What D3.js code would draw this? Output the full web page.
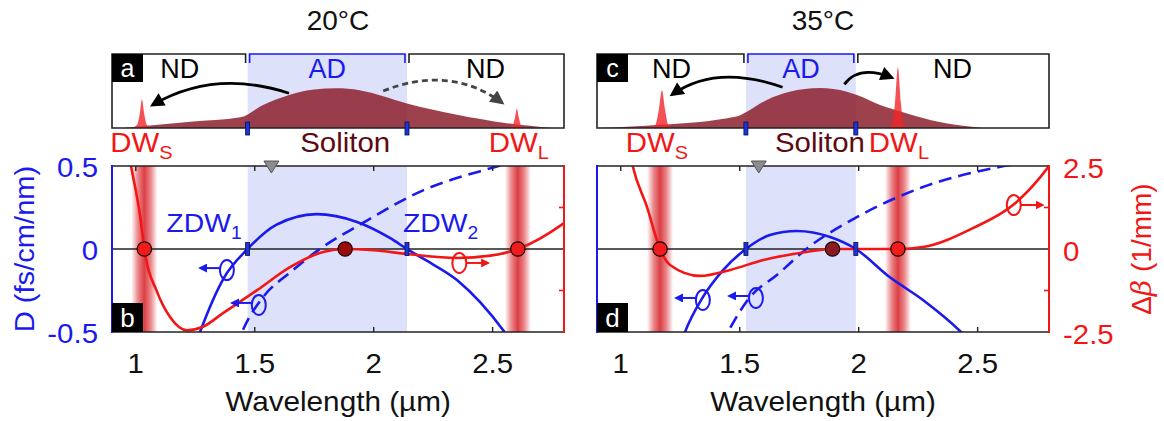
<!DOCTYPE html>
<html>
<head>
<meta charset="utf-8">
<script src="https://cdn.jsdelivr.net/npm/d3@7"></script>
<style>
  body { margin: 0; background: #fff; }
  text { font-family: "Liberation Sans", Arial, sans-serif; }
</style>
</head>
<body>
<div id="chart"></div>
<script>
// ---- data ----
const temps = ['20°C', '35°C'];
const xTicks = [1, 1.5, 2, 2.5];
const dTicks = [-0.5, 0, 0.5];
const betaTicks = [-2.5, 0, 2.5];
const betaMinor = [-1.25, 1.25];

// 20°C
const zdw20 = [1.47, 2.14];
const dw20 = [1.036, 2.606];
const sol20 = 1.88;
const pump20 = 1.57;
const dSolid20 = [[1.24, -0.62], [1.27, -0.5], [1.37, -0.175], [1.47, 0], [1.59, 0.145], [1.76, 0.21], [1.93, 0.163], [2.07, 0.065], [2.14, 0], [2.21, -0.06], [2.35, -0.187], [2.55, -0.5], [2.58, -0.56]];
const dDash20 = [[1.42, -0.6], [1.447, -0.5], [1.535, -0.29], [1.65, -0.14], [1.774, 0], [1.94, 0.145], [2.21, 0.355], [2.5, 0.49], [2.6, 0.53]];
const beta20 = [[0.96, 3.3], [0.98, 2.5], [1.018, 1.0], [1.036, 0], [1.09, -1.3], [1.144, -2.05], [1.215, -2.45], [1.28, -2.35], [1.367, -1.93], [1.51, -1.24], [1.65, -0.54], [1.787, -0.09], [1.88, 0], [2.0, -0.04], [2.14, -0.15], [2.35, -0.27], [2.49, -0.2], [2.606, 0], [2.8, 0.78], [2.85, 1.05]];
const solSpec20 = [[0.95, 0], [0.98, 0.01], [1.23, 0.085], [1.44, 0.145], [1.535, 0.31], [1.648, 0.45], [1.75, 0.52], [1.844, 0.536], [1.94, 0.51], [2.04, 0.43], [2.14, 0.33], [2.35, 0.18], [2.56, 0.065], [2.75, 0]];
const dwSSpec20 = [[0.98, 0], [1.005, 0.04], [1.017, 0.2], [1.026, 0.39], [1.035, 0.2], [1.047, 0.04], [1.07, 0]];
const dwLSpec20 = [[2.56, 0], [2.585, 0.04], [2.595, 0.16], [2.602, 0.26], [2.609, 0.16], [2.619, 0.04], [2.64, 0]];

// 35°C
const zdw35 = [1.526, 1.988];
const dw35 = [1.165, 2.165];
const sol35 = 1.89;
const pump35 = 1.58;
const dSolid35 = [[1.25, -0.58], [1.27, -0.5], [1.345, -0.29], [1.43, -0.127], [1.526, 0], [1.627, 0.084], [1.74, 0.108], [1.88, 0.072], [1.988, 0], [2.13, -0.169], [2.27, -0.307], [2.43, -0.5], [2.47, -0.56]];
const dDash35 = [[1.42, -0.58], [1.45, -0.5], [1.543, -0.29], [1.656, -0.157], [1.78, 0], [1.99, 0.19], [2.27, 0.373], [2.59, 0.494], [2.65, 0.51]];
const beta35 = [[1.03, 3.2], [1.05, 2.5], [1.11, 1.27], [1.165, 0], [1.207, -0.48], [1.333, -0.81], [1.46, -0.63], [1.6, -0.33], [1.78, -0.09], [1.89, 0], [2.0, 0], [2.165, 0], [2.27, 0.06], [2.48, 0.63], [2.65, 1.33], [2.8, 2.5], [2.83, 2.8]];
const solSpec35 = [[0.9, 0], [1.152, 0.04], [1.49, 0.16], [1.53, 0.22], [1.614, 0.38], [1.71, 0.49], [1.837, 0.54], [1.95, 0.49], [1.99, 0.45], [2.09, 0.31], [2.2, 0.2], [2.34, 0.08], [2.52, 0]];
const dwSSpec35 = [[1.12, 0], [1.145, 0.04], [1.16, 0.25], [1.173, 0.51], [1.186, 0.25], [1.2, 0.04], [1.225, 0]];
const dwLSpec35 = [[2.12, 0], [2.14, 0.05], [2.153, 0.35], [2.165, 0.82], [2.177, 0.35], [2.19, 0.05], [2.21, 0]];

// ---- layout ----
const BLUE = '#1a1aee', RED = '#f21616', SHADE = '#dde1f9';
const FS = 27;
const SX = 1.09;   // text in the figure is a bit wider than Arial

const panels = [
  { left: 112, title: temps[0], letters: ['a', 'b'], zdw: zdw20, dw: dw20, sol: sol20, pump: pump20,
    dSolid: dSolid20, dDash: dDash20, beta: beta20, spec: solSpec20, dwS: dwSSpec20, dwL: dwLSpec20,
    solLabel: 1.88,
    arrows: [{ from: [1.644, 0.47], ctrl: [1.33, 0.8], to: [1.07, 0.31], dash: false },
             { from: [2.04, 0.5], ctrl: [2.32, 0.86], to: [2.54, 0.34], dash: true }],
    ellD: [[1.383, -0.127], [1.517, -0.337]], ellB: [2.36, -0.084], firstAxis: true },
  { left: 597, title: temps[1], letters: ['c', 'd'], zdw: zdw35, dw: dw35, sol: sol35, pump: pump35,
    dSolid: dSolid35, dDash: dDash35, beta: beta35, spec: solSpec35, dwS: dwSSpec35, dwL: dwLSpec35,
    solLabel: 1.837,
    arrows: [{ from: [1.68, 0.55], ctrl: [1.40, 0.87], to: [1.215, 0.45], dash: false },
             { from: [1.94, 0.59], ctrl: [2.0, 0.86], to: [2.14, 0.68], dash: false }],
    ellD: [[1.345, -0.307], [1.568, -0.295]], ellB: [2.652, 0.265], firstAxis: false }
];

const svg = d3.select('#chart').append('svg')
    .attr('width', 1164)
    .attr('height', 421);

const defs = svg.append('defs');

// red blurred band for dispersive waves
const grad = defs.append('linearGradient').attr('id', 'band').attr('x1', 0).attr('x2', 1).attr('y1', 0).attr('y2', 0);
[[0, 0], [0.25, 0.55], [0.5, 0.9], [0.75, 0.55], [1, 0]].forEach(s => {
    grad.append('stop').attr('offset', s[0]).attr('stop-color', '#d8282e').attr('stop-opacity', s[1]);
});

function arrowMarker(id, color, len, wid) {
    defs.append('marker')
        .attr('id', id)
        .attr('markerUnits', 'userSpaceOnUse')
        .attr('viewBox', '0 0 10 10')
        .attr('refX', 8).attr('refY', 5)
        .attr('markerWidth', len).attr('markerHeight', wid)
        .attr('orient', 'auto')
        .append('path').attr('d', 'M0,0 L10,5 L0,10 z').attr('fill', color);
}
arrowMarker('ah-black', '#000', 16, 14);
arrowMarker('ah-gray', '#444', 16, 14);
arrowMarker('ah-blue', BLUE, 9, 9);
arrowMarker('ah-red', RED, 9, 9);

// text with optional subscript, slightly stretched horizontally
function label(g, x, y, main, sub, color, size, anchor, sx) {
    const t = g.append('text')
        .attr('transform', `translate(${x},${y}) scale(${sx || 1},1)`)
        .attr('fill', color)
        .attr('font-size', size)
        .attr('text-anchor', anchor || 'middle');
    t.append('tspan').text(main);
    if (sub) t.append('tspan').attr('font-size', size * 0.68).attr('dy', size * 0.27).text(sub);
    return t;
}

const yD = d3.scaleLinear().domain([-0.5, 0.5]).range([332, 166]);
const yB = d3.scaleLinear().domain([-2.5, 2.5]).range([332, 166]);
const yS = d3.scaleLinear().domain([0, 1]).range([128, 54]);

panels.forEach((p, i) => {
    const x = d3.scaleLinear().domain([0.9, 2.8]).range([p.left, p.left + 452]);
    const x0 = x.range()[0], x1 = x.range()[1];
    const g = svg.append('g');

    // title
    label(g, (x0 + x1) / 2, 30, p.title, null, '#111', 28);

    // ===== top spectrum panel =====
    defs.append('clipPath').attr('id', 'clipTop' + i)
        .append('rect').attr('x', x0).attr('y', 54).attr('width', x1 - x0).attr('height', 74);
    defs.append('clipPath').attr('id', 'clipBot' + i)
        .append('rect').attr('x', x0).attr('y', 166).attr('width', x1 - x0).attr('height', 166);

    const top = g.append('g');
    top.append('rect').attr('x', x(p.zdw[0])).attr('y', 54)
        .attr('width', x(p.zdw[1]) - x(p.zdw[0])).attr('height', 74).attr('fill', SHADE);

    const area = d3.area().x(d => x(d[0])).y0(yS(0)).y1(d => yS(d[1])).curve(d3.curveMonotoneX);
    const tc = top.append('g').attr('clip-path', `url(#clipTop${i})`);
    tc.append('path').datum(p.spec).attr('d', area).attr('fill', '#8e2532').attr('fill-opacity', 0.87);
    tc.append('path').datum(p.dwS).attr('d', area).attr('fill', '#f2262b').attr('fill-opacity', 0.8);
    tc.append('path').datum(p.dwL).attr('d', area).attr('fill', '#f2262b').attr('fill-opacity', 0.8);

    p.arrows.forEach(a => {
        top.append('path')
            .attr('d', `M${x(a.from[0])},${yS(a.from[1])} Q${x(a.ctrl[0])},${yS(a.ctrl[1])} ${x(a.to[0])},${yS(a.to[1])}`)
            .attr('fill', 'none')
            .attr('stroke', a.dash ? '#444' : '#000')
            .attr('stroke-width', 2.8)
            .attr('stroke-dasharray', a.dash ? '6,4' : null)
            .attr('marker-end', a.dash ? 'url(#ah-gray)' : 'url(#ah-black)');
    });

    // brackets / frame
    const zx0 = x(p.zdw[0]), zx1 = x(p.zdw[1]);
    top.append('path')
        .attr('d', `M${zx0 - 2},63 V54 H${x0} V128 H${x1} V54 H${zx1 + 2} V63`)
        .attr('fill', 'none').attr('stroke', '#222').attr('stroke-width', 1.6);
    top.append('path')
        .attr('d', `M${zx0 + 2},63 V54 H${zx1 - 2} V63`)
        .attr('fill', 'none').attr('stroke', BLUE).attr('stroke-width', 1.6);

    p.zdw.forEach(z => {
        top.append('rect').attr('x', x(z) - 2).attr('y', 122).attr('width', 4).attr('height', 13)
            .attr('fill', '#1a35d8').attr('stroke', '#0a0a55').attr('stroke-width', 0.8);
    });

    top.append('rect').attr('x', x0).attr('y', 54).attr('width', 31).attr('height', 28).attr('fill', '#000');
    label(top, x0 + 15.5, 77, p.letters[0], null, '#fff', 25);

    label(top, (x0 + zx0) / 2, 78, 'ND', null, '#000', FS);
    label(top, (zx0 + zx1) / 2, 78, 'AD', null, BLUE, FS);
    label(top, (zx1 + x1) / 2, 78, 'ND', null, '#000', FS);

    label(g, x(p.dw[0]) - 3, 152, 'DW', 'S', RED, FS, 'middle', SX);
    label(g, x(p.dw[1]) + 1, 152, 'DW', 'L', RED, FS, 'middle', SX);
    label(g, x(p.solLabel), 152, 'Soliton', null, '#5c0a12', FS, 'middle', SX);

    // ===== bottom dispersion plot =====
    const bot = g.append('g');
    bot.append('rect').attr('x', zx0).attr('y', 166).attr('width', zx1 - zx0).attr('height', 166).attr('fill', SHADE);
    p.dw.forEach(d => {
        bot.append('rect').attr('x', x(d) - 13).attr('y', 166).attr('width', 26).attr('height', 166).attr('fill', 'url(#band)');
    });
    bot.append('line').attr('x1', x0).attr('x2', x1).attr('y1', yD(0)).attr('y2', yD(0))
        .attr('stroke', '#222').attr('stroke-width', 1.6);

    const bc = bot.append('g').attr('clip-path', `url(#clipBot${i})`);
    const lineD = d3.line().x(d => x(d[0])).y(d => yD(d[1])).curve(d3.curveMonotoneX);
    const lineB = d3.line().x(d => x(d[0])).y(d => yB(d[1])).curve(d3.curveMonotoneX);
    bc.append('path').datum(p.dSolid).attr('d', lineD).attr('fill', 'none').attr('stroke', BLUE).attr('stroke-width', 2.6);
    bc.append('path').datum(p.dDash).attr('d', lineD).attr('fill', 'none').attr('stroke', BLUE).attr('stroke-width', 2.6)
        .attr('stroke-dasharray', '13,7');
    bc.append('path').datum(p.beta).attr('d', lineB).attr('fill', 'none').attr('stroke', RED).attr('stroke-width', 2.6);

    // ZDW markers and phase matching points
    p.zdw.forEach(z => {
        bot.append('rect').attr('x', x(z) - 2).attr('y', yD(0) - 6.5).attr('width', 4).attr('height', 13)
            .attr('fill', '#1a35d8').attr('stroke', '#0a0a55').attr('stroke-width', 0.8);
    });
    p.dw.forEach(d => {
        bot.append('circle').attr('cx', x(d)).attr('cy', yD(0)).attr('r', 7.2)
            .attr('fill', '#f01b1b').attr('stroke', '#1a0000').attr('stroke-width', 1.2);
    });
    bot.append('circle').attr('cx', x(p.sol)).attr('cy', yD(0)).attr('r', 7.2)
        .attr('fill', i === 0 ? '#9a0c0c' : '#8c1a24').attr('stroke', '#1a0000').attr('stroke-width', 1.2);

    // curve identifiers: ellipses with arrows
    p.ellD.forEach(e => {
        const cx = x(e[0]), cy = yD(e[1]);
        bot.append('ellipse').attr('cx', cx).attr('cy', cy).attr('rx', 7).attr('ry', 10)
            .attr('fill', 'none').attr('stroke', BLUE).attr('stroke-width', 2);
        bot.append('line').attr('x1', cx - 7).attr('x2', cx - 27).attr('y1', cy - 2).attr('y2', cy - 2)
            .attr('stroke', BLUE).attr('stroke-width', 2).attr('marker-end', 'url(#ah-blue)');
    });
    {
        const cx = x(p.ellB[0]), cy = yD(p.ellB[1]);
        bot.append('ellipse').attr('cx', cx).attr('cy', cy).attr('rx', 7).attr('ry', 10)
            .attr('fill', 'none').attr('stroke', RED).attr('stroke-width', 2);
        bot.append('line').attr('x1', cx + 7).attr('x2', cx + 29).attr('y1', cy).attr('y2', cy)
            .attr('stroke', RED).attr('stroke-width', 2).attr('marker-end', 'url(#ah-red)');
    }

    if (i === 0) {
        label(bot, zx0 - 6, 232, 'ZDW', '1', BLUE, 26, 'end', SX);
        label(bot, zx1 - 4, 232, 'ZDW', '2', BLUE, 26, 'start', SX);
    }

    // frame
    bot.append('line').attr('x1', x0).attr('x2', x1).attr('y1', 166).attr('y2', 166).attr('stroke', '#222').attr('stroke-width', 1.6);
    bot.append('line').attr('x1', x0).attr('x2', x1).attr('y1', 332).attr('y2', 332).attr('stroke', '#222').attr('stroke-width', 1.6);
    bot.append('line').attr('x1', x0).attr('x2', x0).attr('y1', 165).attr('y2', 333).attr('stroke', BLUE).attr('stroke-width', 2);
    bot.append('line').attr('x1', x1).attr('x2', x1).attr('y1', 165).attr('y2', 333).attr('stroke', RED).attr('stroke-width', 2);

    // x ticks (inward, top and bottom)
    xTicks.forEach(t => {
        bot.append('line').attr('x1', x(t)).attr('x2', x(t)).attr('y1', 166).attr('y2', 171).attr('stroke', '#222').attr('stroke-width', 1.4);
        bot.append('line').attr('x1', x(t)).attr('x2', x(t)).attr('y1', 332).attr('y2', 327).attr('stroke', '#222').attr('stroke-width', 1.4);
        label(g, x(t), 373, String(t), null, '#111', FS, 'middle', SX);
    });
    betaMinor.forEach(t => {
        bot.append('line').attr('x1', x1).attr('x2', x1 - 5).attr('y1', yB(t)).attr('y2', yB(t)).attr('stroke', RED).attr('stroke-width', 1.6);
    });
    label(g, (x0 + x1) / 2, 411, 'Wavelength (µm)', null, '#111', FS, 'middle', 1.1);

    // pump marker
    const px = x(p.pump);
    bot.append('path').attr('d', `M${px - 7.5},161 L${px + 7.5},161 L${px},173 Z`)
        .attr('fill', '#8c8c8c').attr('stroke', '#555').attr('stroke-width', 1);

    bot.append('rect').attr('x', x0).attr('y', 303).attr('width', 31).attr('height', 29).attr('fill', '#000');
    label(bot, x0 + 15.5, 327, p.letters[1], null, '#fff', 26);

    // axes labels
    if (p.firstAxis) {
        dTicks.forEach(t => {
            label(g, 98, yD(t) + 11, String(t), null, BLUE, FS, 'end', SX);
        });
        g.append('text').attr('transform', `translate(34,${yD(0)}) rotate(-90) scale(1.04,1)`)
            .attr('text-anchor', 'middle').attr('font-size', 28).attr('fill', BLUE).text('D (fs/cm/nm)');
    } else {
        betaTicks.forEach(t => {
            label(g, x1 + 14, yB(t) + 12, String(t), null, RED, FS, 'start', SX);
        });
        const yl = g.append('text').attr('transform', `translate(1151,${yB(0)}) rotate(-90)`)
            .attr('text-anchor', 'middle').attr('font-size', 28).attr('fill', RED);
        yl.append('tspan').text('Δ');
        yl.append('tspan').attr('font-family', '"DejaVu Serif", serif').attr('font-style', 'italic').attr('font-weight', 300).text('β');
        yl.append('tspan').text(' (1/mm)');
    }
});
</script>
</body>
</html>
